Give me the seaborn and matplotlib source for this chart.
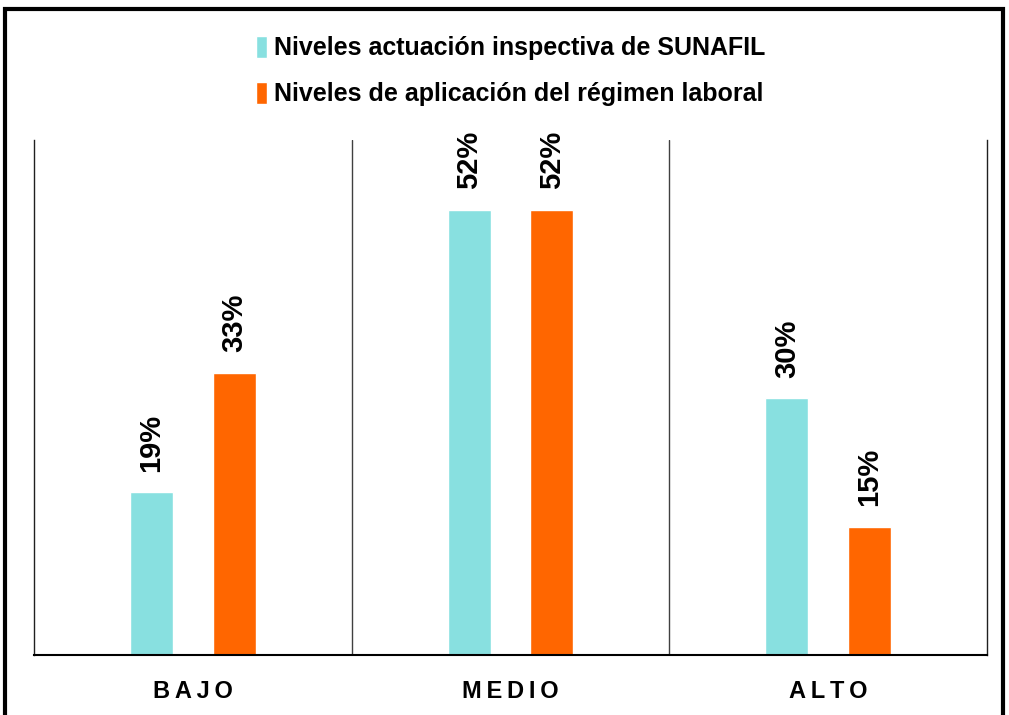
import matplotlib
matplotlib.use("Agg")
import matplotlib.pyplot as plt
import seaborn as sns
import pandas as pd
from matplotlib.patches import Rectangle

categories = ["BAJO", "MEDIO", "ALTO"]
series_names = ["Niveles actuación inspectiva de SUNAFIL",
                "Niveles de aplicación del régimen laboral"]
sunafil = [19, 52, 30]
regimen = [33, 52, 15]
colors = ["#88E0E0", "#FF6600"]

df = pd.DataFrame({
    "cat": categories * 2,
    "serie": [series_names[0]] * 3 + [series_names[1]] * 3,
    "val": sunafil + regimen,
})

sns.set_theme(style="white")
plt.rcParams["font.family"] = ["Liberation Sans", "DejaVu Sans"]
plt.rcParams["text.color"] = "black"
plt.rcParams["xtick.color"] = "black"

fig = plt.figure(figsize=(10.09, 7.15), dpi=100)
ax = fig.add_axes([34/1009, 60/715, 953/1009, 515/715])

sns.barplot(data=df, x="cat", y="val", hue="serie", palette=colors,
            width=0.52, gap=0.477, saturation=1, ax=ax, legend=True,
            order=categories, hue_order=series_names)

ax.set_xlim(-0.5, 2.5)
ax.set_ylim(0, 60.2)
ax.set_xlabel("")
ax.set_ylabel("")
ax.set_yticks([])
ax.tick_params(axis="x", length=0, pad=18)
ax.set_xticks(range(3))
ax.set_xticklabels(["B\u2009A\u2009J\u2009O", "M\u2009E\u2009D\u2009I\u2009O", "A\u2009L\u2009T\u2009O"],
                   fontweight="bold", fontsize=17, color="black")

for x in [0.5, 1.5]:
    ax.axvline(x, color="#404040", lw=1)

ax.spines["top"].set_visible(False)
ax.spines["right"].set_visible(True)
for s in ["left", "right"]:
    ax.spines[s].set_color("#202020")
    ax.spines[s].set_linewidth(1)
ax.spines["bottom"].set_color("black")
ax.spines["bottom"].set_linewidth(1.5)

for cont in ax.containers:
    labels = [f"{int(round(v))}%" for v in cont.datavalues]
    ax.bar_label(cont, labels=labels, rotation=90, padding=15,
                 fontsize=21, fontweight="bold", color="black")

leg = ax.legend(loc="upper center", bbox_to_anchor=(0.5, 1.222), frameon=False,
                fontsize=18, handlelength=0.45, handleheight=1.0, handletextpad=0.25,
                labelspacing=0.85, borderaxespad=0)
for t in leg.get_texts():
    t.set_fontweight("bold")
    t.set_color("black")

fig.patches.append(Rectangle((5/1009, -0.02), 998/1009, 1.02 - 9/715,
                             transform=fig.transFigure, fill=False,
                             edgecolor="black", lw=3, zorder=10))

fig.savefig("out.png", dpi=100)
